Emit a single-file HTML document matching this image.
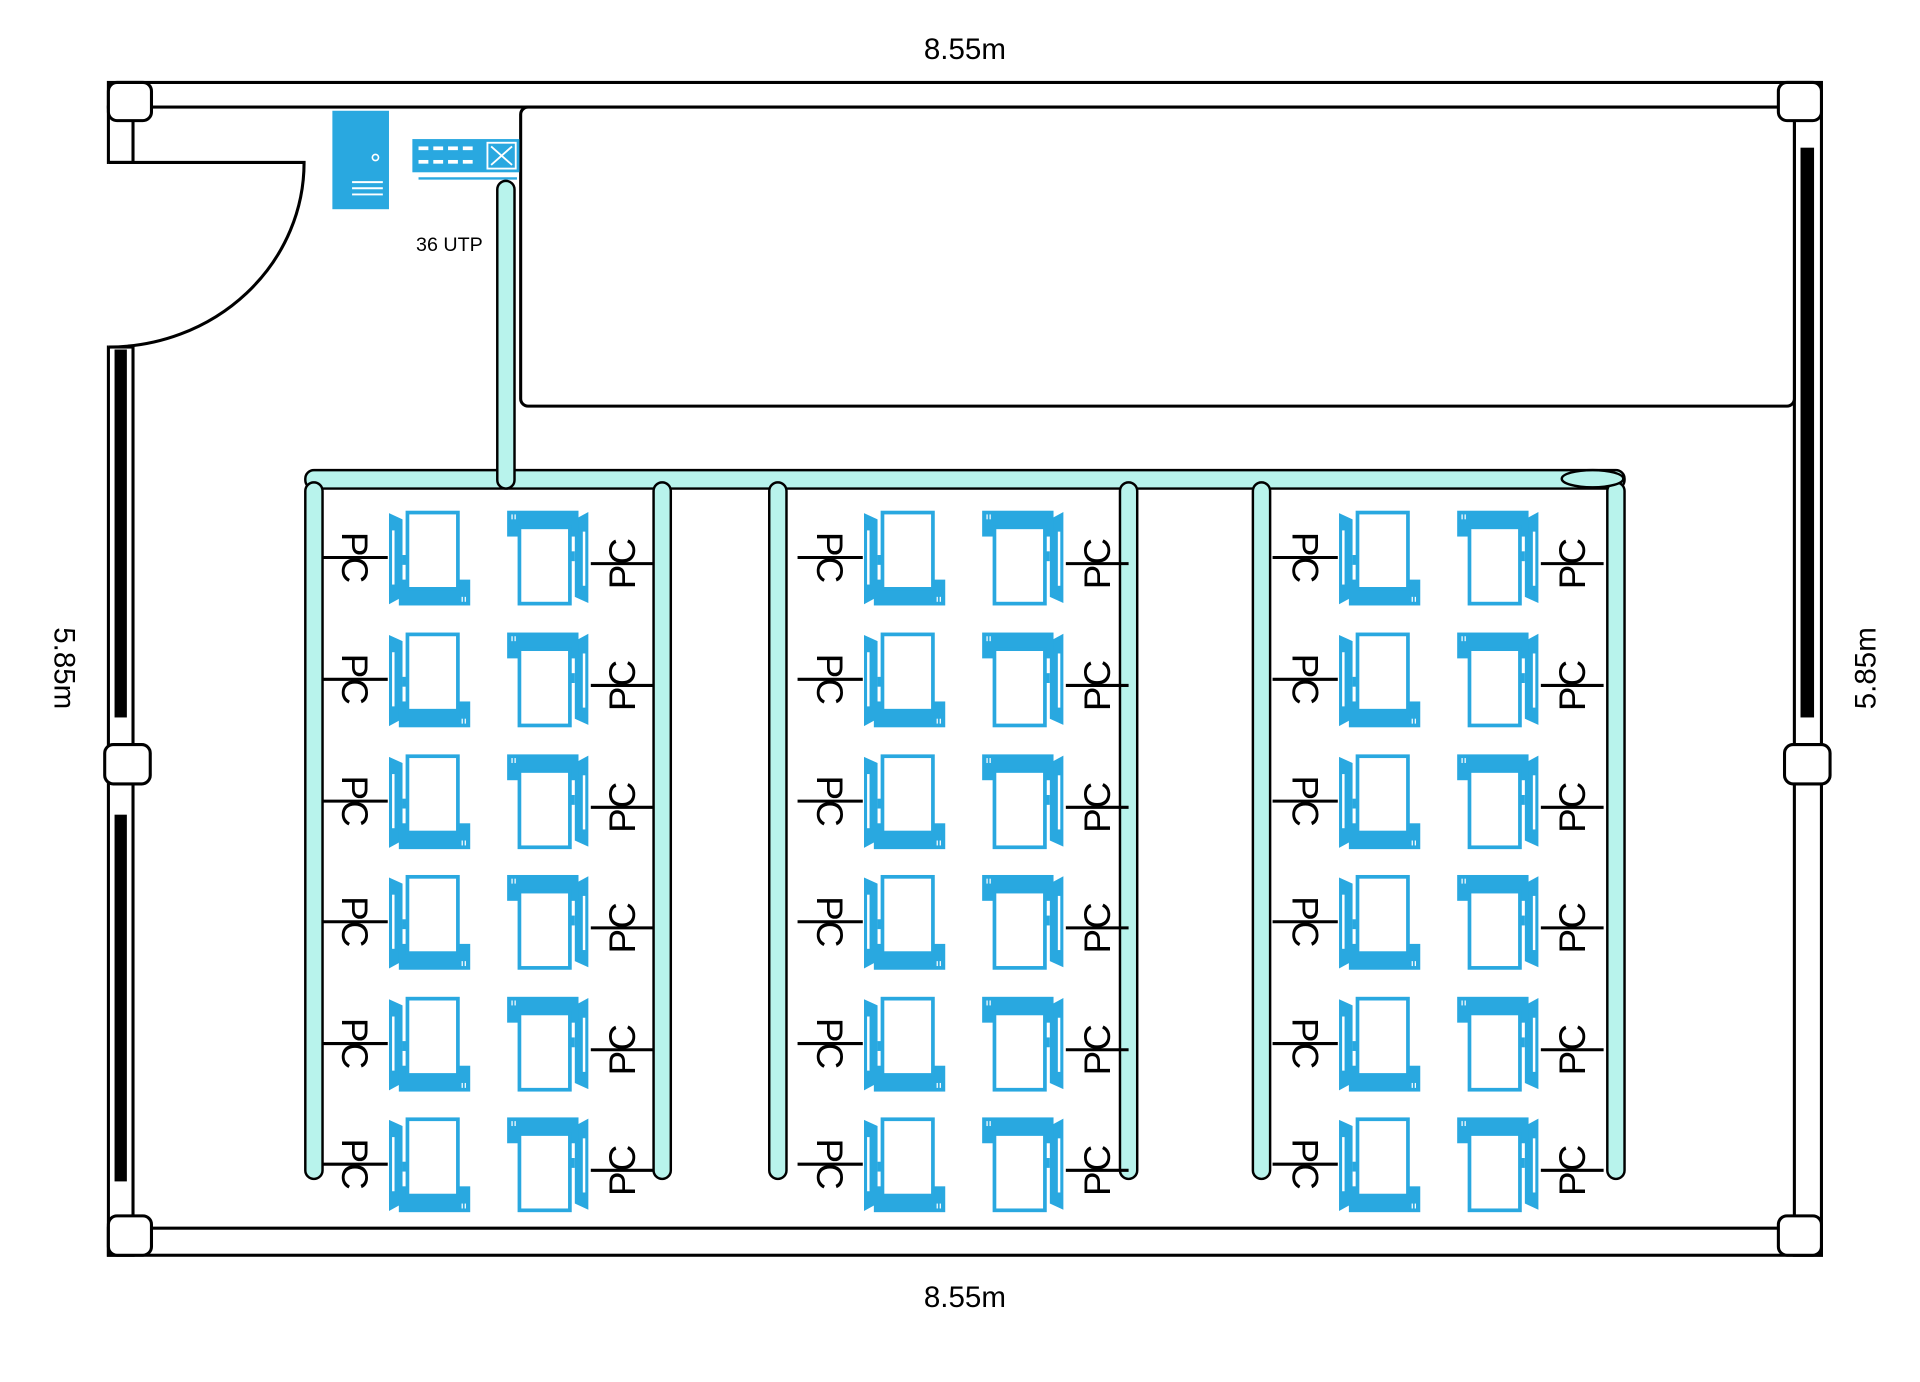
<!DOCTYPE html>
<html><head><meta charset="utf-8"><style>html,body{margin:0;padding:0;background:#fff}svg{display:block}</style></head>
<body>
<svg width="1920" height="1382" viewBox="0 0 1560 1123" xmlns="http://www.w3.org/2000/svg" font-family="Liberation Sans, sans-serif">
<defs>
<g id="ic">
  <polygon points="0,2 11,7 11,70 0,76" fill="#29a8e0"/>
  <rect x="2.5" y="16" width="2" height="44" fill="#fff"/>
  <rect x="11" y="36" width="4" height="8" fill="#29a8e0"/>
  <rect x="8" y="56" width="58" height="21" fill="#29a8e0"/>
  <rect x="15" y="1.5" width="41" height="62" fill="#fff" stroke="#29a8e0" stroke-width="3"/>
  <rect x="59" y="70" width="1" height="4" fill="#fff"/><rect x="61.5" y="70" width="1" height="4" fill="#fff"/>
</g>
<g id="row">
  <use href="#ic" x="316" y="0"/>
  <use href="#ic" transform="translate(478,77) rotate(180)"/>
  <line x1="262" y1="38" x2="315" y2="38" stroke="#000" stroke-width="2.5"/>
  <line x1="480" y1="43" x2="531" y2="43" stroke="#000" stroke-width="2.5"/>
  <text transform="translate(278,38) rotate(90)" font-size="30" text-anchor="middle">PC</text>
  <text transform="translate(516,43) rotate(-90)" font-size="30" text-anchor="middle">PC</text>
</g>
<g id="col">
  <use href="#row" y="415"/><use href="#row" y="514"/><use href="#row" y="613"/>
  <use href="#row" y="711"/><use href="#row" y="810"/><use href="#row" y="908"/>
</g>
</defs>

<!-- walls -->
<g fill="#fff" stroke="#000" stroke-width="2.5">
  <rect x="88" y="67" width="1392" height="20"/>
  <rect x="88" y="998" width="1392" height="22"/>
  <rect x="88" y="87" width="20" height="45"/>
  <rect x="88" y="282" width="20" height="738"/>
  <rect x="1458" y="87" width="22" height="933"/>
  <rect x="423" y="87" width="1035" height="243" rx="6"/>
</g>
<rect x="93" y="284" width="10" height="299" fill="#000"/>
<rect x="93" y="662" width="10" height="298" fill="#000"/>
<rect x="1463" y="120" width="11" height="463" fill="#000"/>
<g fill="#fff" stroke="#000" stroke-width="2.5">
  <rect x="88" y="67" width="35" height="31" rx="7"/>
  <rect x="1445" y="67" width="35" height="31" rx="7"/>
  <rect x="88" y="988" width="35" height="32" rx="7"/>
  <rect x="1445" y="988" width="35" height="32" rx="7"/>
  <rect x="85" y="605" width="37" height="32" rx="7"/>
  <rect x="1450" y="605" width="37" height="32" rx="7"/>
</g>
<!-- door -->
<path d="M88 132 H247 A159 150 0 0 1 88 282" fill="#fff" stroke="#000" stroke-width="2.5"/>

<!-- server & switch -->
<rect x="270" y="90" width="46" height="80" fill="#29a8e0"/>
<circle cx="305" cy="128" r="2.5" fill="none" stroke="#fff" stroke-width="1.3"/>
<g stroke="#fff" stroke-width="1.6"><line x1="286" y1="148" x2="311" y2="148"/><line x1="286" y1="153" x2="311" y2="153"/><line x1="286" y1="158" x2="311" y2="158"/></g>
<rect x="335" y="113" width="87" height="27" fill="#29a8e0"/>
<rect x="396" y="116" width="23" height="21" fill="none" stroke="#fff" stroke-width="1.5"/>
<path d="M399 119 L416 134 M416 119 L399 134" stroke="#fff" stroke-width="1.5"/>
<g fill="#fff">
  <rect x="340" y="119" width="8" height="3"/><rect x="352" y="119" width="8" height="3"/><rect x="364" y="119" width="8" height="3"/><rect x="376" y="119" width="8" height="3"/>
  <rect x="340" y="130" width="8" height="3"/><rect x="352" y="130" width="8" height="3"/><rect x="364" y="130" width="8" height="3"/><rect x="376" y="130" width="8" height="3"/>
</g>
<line x1="340" y1="145" x2="420" y2="145" stroke="#29a8e0" stroke-width="2"/>
<text x="338" y="204" font-size="16">36 UTP</text>

<!-- cable trays -->
<g fill="#b8f3ec" stroke="#000" stroke-width="2">
  <rect x="248" y="382" width="1072" height="15" rx="7"/>
  <rect x="248" y="392" width="14" height="566" rx="7"/>
  <rect x="531" y="392" width="14" height="566" rx="7"/>
  <rect x="625" y="392" width="14" height="566" rx="7"/>
  <rect x="910" y="392" width="14" height="566" rx="7"/>
  <rect x="1018" y="392" width="14" height="566" rx="7"/>
  <rect x="1306" y="392" width="14" height="566" rx="7"/>
  <rect x="404" y="147" width="14" height="250" rx="7"/>
  <ellipse cx="1294" cy="389" rx="25" ry="7"/>
</g>

<use href="#col"/>
<use href="#col" x="386"/>
<use href="#col" x="772"/>

<!-- dimensions -->
<g font-size="24" text-anchor="middle" fill="#000">
  <text x="784" y="48">8.55m</text>
  <text x="784" y="1062">8.55m</text>
  <text transform="translate(44,543) rotate(90)">5.85m</text>
  <text transform="translate(1524,543) rotate(-90)">5.85m</text>
</g>
</svg>
</body></html>
